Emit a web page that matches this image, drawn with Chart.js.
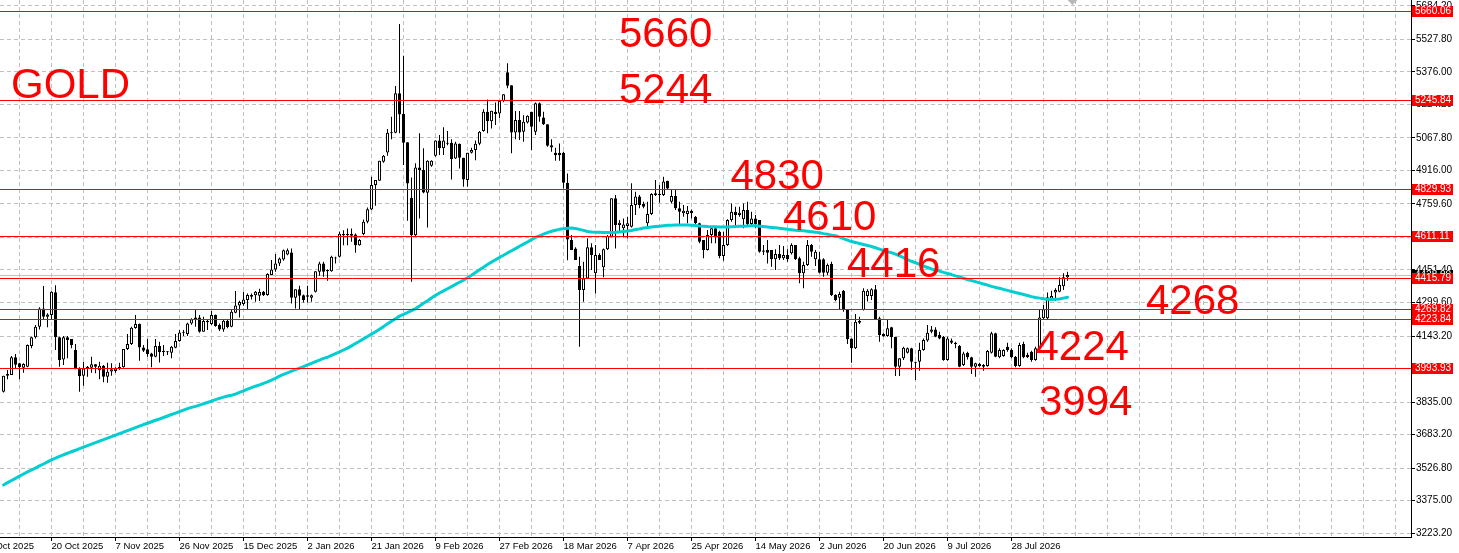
<!DOCTYPE html>
<html>
<head>
<meta charset="utf-8">
<script src="https://cdn.jsdelivr.net/npm/chart.js"></script>
<style>
html,body{margin:0;padding:0;background:#ffffff;overflow:hidden}
canvas{display:block}
</style>
</head>
<body>
<canvas id="c" width="1459" height="553"></canvas>
<script>
// ---- daily OHLC (one value per bar) ----
const OPEN = [
3883,3958,3961,4044,4016,3995,4000,4097,4137,4187,
4272,4233,4241,4347,4137,4034,4137,4129,4078,3992,
3958,3992,3995,4011,3983,4005,3953,3978,3980,3991,
3997,4083,4106,4181,4199,4090,4081,4062,4047,4097,
4067,4067,4065,4089,4120,4159,4153,4202,4221,4230,
4163,4208,4199,4241,4195,4174,4215,4187,4252,4286,
4293,4311,4327,4333,4331,4350,4335,4428,4454,4482,
4500,4524,4533,4322,4362,4334,4326,4322,4350,4443,
4482,4446,4446,4505,4513,4614,4614,4611,4617,4567,
4619,4676,4734,4848,4868,4957,5000,5089,5092,5276,
5179,5048,4788,4614,4930,4918,4812,4938,4985,5056,
5019,5040,5045,4972,5040,4975,4871,4998,5011,5040,
5100,5190,5146,5190,5182,5240,5374,5314,5093,5151,
5097,5140,5190,5097,5229,5163,5132,5034,4998,4998,
4998,4858,4591,4552,4470,4358,4412,4557,4436,4521,
4464,4548,4607,4786,4661,4646,4657,4653,4755,4794,
4759,4669,4713,4801,4801,4801,4868,4770,4797,4739,
4716,4713,4728,4700,4669,4591,4545,4615,4646,4630,
4517,4568,4685,4723,4708,4688,4731,4666,4692,4685,
4537,4545,4545,4501,4526,4506,4521,4529,4568,4506,
4436,4475,4568,4501,4501,4501,4439,4479,4335,4322,
4355,4268,4132,4086,4205,4265,4330,4330,4361,4226,
4153,4143,4184,4140,4000,4039,4065,4086,4023,4023,
4078,4122,4163,4174,4148,4140,4031,4122,4112,4097,
4008,4065,4044,4000,4013,4008,4003,4065,4156,4044,
4050,4093,4078,4047,4003,4106,4055,4070,4031,4081,
4226,4226,4317,4346,4350,4376,4417
];
const HIGH = [
3958,3985,4050,4059,4019,4016,4104,4140,4195,4277,
4377,4249,4352,4380,4140,4143,4143,4129,4106,3997,
4023,4003,4047,4013,4023,4008,4019,4016,3997,4019,
4083,4153,4187,4241,4202,4101,4129,4065,4129,4117,
4101,4073,4097,4153,4171,4171,4205,4226,4265,4241,
4233,4221,4260,4244,4202,4218,4221,4265,4353,4308,
4350,4342,4342,4353,4364,4353,4436,4498,4526,4510,
4547,4552,4552,4362,4378,4337,4378,4337,4446,4490,
4490,4455,4518,4513,4630,4637,4645,4645,4622,4596,
4687,4743,4887,4871,4961,4988,5109,5167,5310,5599,
5451,5048,4883,4949,5089,5019,4964,4964,5056,5081,
5117,5100,5061,5050,5042,4975,4998,5022,5056,5100,
5202,5247,5194,5233,5244,5272,5416,5314,5193,5193,
5174,5174,5190,5233,5233,5190,5132,5062,5022,5042,
5003,4902,4615,4557,4513,4490,4599,4576,4568,4529,
4552,4615,4786,4801,4685,4692,4700,4856,4817,4801,
4770,4770,4809,4871,4848,4887,4868,4825,4825,4770,
4755,4750,4734,4703,4672,4591,4638,4654,4654,4635,
4630,4688,4762,4747,4747,4762,4770,4723,4708,4685,
4568,4591,4545,4548,4568,4563,4548,4576,4568,4513,
4490,4591,4573,4545,4537,4506,4482,4490,4338,4350,
4358,4268,4132,4246,4233,4366,4361,4366,4381,4233,
4156,4221,4187,4140,4039,4093,4090,4089,4023,4112,
4132,4195,4190,4184,4163,4143,4140,4132,4117,4101,
4070,4070,4047,4019,4019,4013,4078,4163,4159,4086,
4081,4112,4086,4050,4112,4117,4065,4075,4093,4265,
4288,4346,4355,4366,4417,4436,4443
];
const LOW = [
3880,3941,3961,3992,3941,3972,3998,4086,4132,4174,
4221,4184,4218,4078,4000,4008,4039,4086,3988,3883,
3911,3953,3972,3969,3941,3927,3925,3958,3972,3985,
3995,4078,4101,4177,4028,4069,4047,3997,4044,4020,
4050,4055,4039,4086,4117,4143,4143,4196,4187,4159,
4163,4171,4195,4187,4167,4163,4179,4184,4249,4230,
4285,4269,4314,4303,4307,4330,4331,4428,4443,4470,
4495,4520,4295,4272,4269,4300,4300,4303,4346,4424,
4420,4401,4443,4482,4510,4567,4567,4583,4532,4564,
4614,4669,4731,4751,4868,4952,4985,5062,5089,5089,
4941,4681,4396,4606,4692,4809,4650,4933,4980,4988,
4988,5034,4874,4969,4925,4840,4840,4995,4964,5034,
5097,5089,5112,5128,5159,5234,5299,4996,5062,5058,
5050,5135,5011,5081,5143,5128,5026,5003,4961,4961,
4832,4497,4545,4498,4093,4303,4412,4451,4342,4498,
4417,4545,4604,4552,4630,4604,4599,4650,4708,4739,
4739,4653,4708,4797,4765,4797,4828,4762,4731,4666,
4700,4669,4692,4666,4576,4506,4542,4576,4576,4506,
4495,4563,4677,4653,4700,4646,4661,4653,4646,4532,
4521,4482,4467,4451,4498,4498,4490,4524,4498,4389,
4366,4470,4513,4470,4436,4420,4428,4330,4306,4265,
4257,4106,4019,4083,4199,4262,4304,4311,4218,4117,
4140,4140,4086,3957,3957,4031,4062,3985,3938,3981,
4075,4117,4156,4137,4128,4028,4028,4106,4086,3997,
4003,4034,3966,3953,4000,3981,4000,4062,4044,4039,
4047,4070,4039,3997,4000,4039,4041,4023,4028,4078,
4221,4221,4311,4308,4347,4358,4401
];
const CLOSE = [
3958,3966,4044,4009,3997,4013,4101,4137,4187,4272,
4233,4244,4350,4137,4031,4137,4125,4101,3992,3956,
3992,4000,4011,4000,4005,3953,3977,3988,3992,3999,
4083,4106,4182,4199,4090,4075,4059,4047,4097,4067,
4075,4070,4093,4120,4160,4163,4202,4221,4230,4163,
4213,4215,4241,4190,4174,4215,4185,4257,4286,4302,
4314,4335,4335,4350,4349,4333,4433,4454,4482,4505,
4544,4544,4322,4362,4331,4311,4334,4334,4446,4482,
4443,4451,4513,4510,4620,4619,4619,4619,4567,4591,
4676,4735,4848,4871,4961,4985,5092,5093,5276,5177,
5045,4855,4614,4930,4918,4813,4961,4961,5056,5019,
5056,5045,4969,5042,4975,4874,4998,5011,5040,5097,
5190,5146,5194,5179,5240,5272,5311,5093,5151,5093,
5143,5171,5120,5229,5167,5131,5031,5023,4987,4987,
4858,4594,4545,4498,4358,4412,4557,4521,4521,4498,
4548,4610,4786,4661,4672,4664,4669,4755,4794,4755,
4747,4713,4806,4809,4806,4864,4832,4797,4739,4723,
4728,4728,4716,4669,4583,4545,4615,4646,4607,4517,
4568,4685,4723,4708,4719,4731,4666,4692,4666,4537,
4542,4532,4501,4526,4506,4521,4501,4568,4501,4436,
4475,4568,4537,4537,4439,4439,4475,4335,4311,4339,
4265,4128,4086,4210,4215,4355,4355,4361,4221,4148,
4143,4179,4137,4000,4039,4089,4086,4023,4019,4078,
4125,4159,4174,4140,4132,4031,4132,4112,4106,4000,
4062,4044,4000,4016,4003,4000,4073,4156,4047,4078,
4078,4078,4044,4003,4101,4044,4044,4031,4086,4230,
4268,4324,4330,4358,4381,4417,4428
];
// moving average (cyan line)
const MA = [
3448,3459,3469,3479,3489,3499,3509,3518,3527,3537,3546,3556,
3565,3573,3581,3589,3596,3603,3610,3618,3625,3632,3639,3646,3653,
3660,3667,3674,3681,3688,3695,3702,3709,3716,3723,3730,3736,
3743,3750,3756,3763,3770,3777,3783,3790,3797,3804,3810,3815,3821,
3827,3833,3839,3846,3852,3858,3863,3867,
3872,3880,3887,3895,3902,
3909,3915,3922,3929,
3937,3946,3956,
3964,3971,3979,3986,3993,
4000,4008,4016,4024,4031,4039,
4044,4053,4061,4069,4078,4087,
4097,4108,4119,4130,4141,4152,
4163,4175,4187,4200,4212,4224,4236,
4244,4253,4262,4271,
4283,4296,4308,4321,4333,
4344,4354,4364,4374,4384,4394,4404,
4415,4427,4440,4452,4464,
4477,4488,4499,4510,4520,4531,
4541,4551,4562,4572,4582,4593,4603,
4611,4619,4626,4632,4637,
4641,4644,4646,
4647,4645,4641,4636,4631,
4629,4628,4627,4626,4626,
4626,4627,4629,4631,4633,
4636,4640,4643,4647,4650,
4652,4654,4656,4658,4660,
4660,4661,4661,4661,4661,
4660,4659,4657,4656,4654,
4653,4653,4652,4652,4652,
4653,4654,4655,4656,4657,4658,4658,
4656,4654,4652,4650,
4648,4646,4644,4641,
4639,4637,4636,4634,4632,
4630,4628,4625,
4621,4618,4614,4611,
4605,4598,4591,4584,
4580,4575,4570,4566,4561,
4555,4549,4543,4537,4532,
4525,4517,4509,4500,4492,
4485,4478,4470,4463,4456,
4451,4446,4440,4435,4430,
4424,4419,4413,4407,4402,
4397,4391,4386,4381,4375,
4370,4366,4361,4356,4351,
4346,4342,4337,4332,4327,
4323,4320,4317,4315,
4314,4315,4316,
4320,4324
];
// horizontal price levels and current bid
const LEVELS = [5660.06, 5245.84, 4829.93, 4611.11, 4415.79, 4269.82, 4223.84, 3993.93];
const BID = 4428.00;
// price-axis tick values
const Y_TICKS = [5684.20, 5527.80, 5376.00, 5224.20, 5067.80, 4916.00, 4759.60, 4603.20,
                 4451.40, 4299.60, 4143.20, 3991.40, 3835.00, 3683.20, 3526.80, 3375.00, 3223.20];
// date labels and the bar they sit on
const DATE_TICK_IDX = [-4, 12, 28, 44, 60, 76, 92, 108, 124, 140, 156, 172, 188, 204, 220, 236, 252];
const DATE_LABELS = ['1 Oct 2025','20 Oct 2025','7 Nov 2025','26 Nov 2025','15 Dec 2025','2 Jan 2026',
  '21 Jan 2026','9 Feb 2026','27 Feb 2026','18 Mar 2026','7 Apr 2026','25 Apr 2026','14 May 2026',
  '2 Jun 2026','20 Jun 2026','9 Jul 2026','28 Jul 2026'];
// big annotation texts
const NOTE_TEXT = ['GOLD','5660','5244','4830','4610','4416','4268','4224','3994'];

// ---------- layout / style (not data) ----------
const NOTE_POS = [[11,98],[619,46.5],[619,103],[730.5,188.5],[783,229.5],[847,276.5],[1146,314],[1035.5,359.5],[1039,414.5]];
const X_MIN = -0.875, X_MAX = 351.875;
const Y_MIN = 3205.2, Y_MAX = 5711.4;
const GRID_IDX = [];
for (let k = 4; k <= 348; k += 8) GRID_IDX.push(k);
const X_TICKS = [-4].concat(GRID_IDX);
const IDX = OPEN.map((_, i) => i);

Chart.defaults.font.family = "'Liberation Sans', Arial, sans-serif";
Chart.defaults.color = '#000000';

function noPad(s) { s.paddingLeft = 0; s.paddingRight = 0; s.paddingTop = 0; s.paddingBottom = 0; }

const overlay = {
  id: 'overlay',
  beforeDatasetsDraw(chart) {
    const {ctx, chartArea: a, scales: {y}} = chart;
    const py = Math.round(y.getPixelForValue(BID)) + 0.5;
    ctx.save();
    ctx.strokeStyle = '#C0C0C0';
    ctx.lineWidth = 1;
    ctx.beginPath(); ctx.moveTo(a.left, py); ctx.lineTo(a.right, py); ctx.stroke();
    ctx.restore();
  },
  afterDatasetsDraw(chart) {
    const {ctx, chartArea: a, scales: {y}} = chart;
    ctx.save();
    ctx.strokeStyle = '#FF0000';
    ctx.lineWidth = 1;
    LEVELS.forEach(v => {
      const py = Math.round(y.getPixelForValue(v)) + 0.5;
      ctx.beginPath(); ctx.moveTo(a.left, py); ctx.lineTo(a.right, py); ctx.stroke();
    });
    ctx.restore();
  },
  afterDraw(chart) {
    const {ctx, chartArea: a, scales: {x, y}} = chart;
    ctx.save();
    ctx.font = "10px 'Liberation Sans', Arial, sans-serif";
    ctx.textBaseline = 'middle';
    ctx.textAlign = 'left';
    const bx = a.right + 1;
    let cy = Math.round(y.getPixelForValue(BID));
    ctx.fillStyle = '#000000';
    ctx.fillRect(bx, cy - 5, 41, 11);
    ctx.fillStyle = '#FFFFFF';
    ctx.fillText(BID.toFixed(2), bx + 3, cy + 0.5);
    LEVELS.forEach(v => {
      const c = Math.round(y.getPixelForValue(v));
      ctx.fillStyle = '#FF0000';
      ctx.fillRect(bx, c - 5, 41, 11);
      ctx.fillStyle = '#FFFFFF';
      ctx.fillText(v.toFixed(2), bx + 3, c + 0.5);
    });
    const tx = Math.round(x.getPixelForValue(267)) + 0.5;
    ctx.fillStyle = '#B8B8B8';
    ctx.beginPath(); ctx.moveTo(tx - 5, 0); ctx.lineTo(tx + 5, 0); ctx.lineTo(tx, 5); ctx.closePath(); ctx.fill();
    ctx.font = "42px 'Liberation Sans', Arial, sans-serif";
    ctx.textBaseline = 'alphabetic';
    ctx.fillStyle = '#FF0000';
    NOTE_TEXT.forEach((t, k) => ctx.fillText(t, NOTE_POS[k][0], NOTE_POS[k][1]));
    ctx.restore();
  }
};

new Chart(document.getElementById('c'), {
  type: 'bar',
  data: {
    datasets: [
      {
        type: 'line', label: 'MA', order: 0,
        data: IDX.map(i => ({x: i, y: MA[i]})),
        borderColor: '#00CED1', borderWidth: 3, pointRadius: 0, fill: false, tension: 0,
        borderJoinStyle: 'round', borderCapStyle: 'round'
      },
      {
        type: 'bar', label: 'body', order: 1, grouped: false,
        data: IDX.map(i => ({x: i, y: [OPEN[i], CLOSE[i]]})),
        backgroundColor: c => (c.dataIndex !== undefined && CLOSE[c.dataIndex] >= OPEN[c.dataIndex]) ? '#FFFFFF' : '#000000',
        borderColor: '#000000', borderWidth: 1, borderSkipped: false,
        barThickness: 3, maxBarThickness: 3, minBarLength: 1, inflateAmount: 0
      },
      {
        type: 'bar', label: 'wick', order: 2, grouped: false,
        data: IDX.map(i => ({x: i, y: [LOW[i], HIGH[i]]})),
        backgroundColor: '#000000', borderWidth: 0,
        barThickness: 1, maxBarThickness: 1, minBarLength: 1, inflateAmount: 0
      }
    ]
  },
  options: {
    responsive: false,
    animation: false,
    devicePixelRatio: 1,
    events: [],
    layout: {padding: 0, autoPadding: false},
    plugins: {legend: {display: false}, tooltip: {enabled: false}},
    scales: {
      x: {
        type: 'linear', position: 'bottom', min: X_MIN, max: X_MAX, offset: false,
        afterBuildTicks: s => { s.ticks = X_TICKS.map(v => ({value: v})); },
        afterFit: s => { s.height = 16; noPad(s); },
        ticks: {
          autoSkip: false, maxRotation: 0, minRotation: 0, align: 'start', padding: 0,
          font: {size: 9.5}, color: '#000000',
          callback: v => { const k = DATE_TICK_IDX.indexOf(v); return k >= 0 ? DATE_LABELS[k] : ''; }
        },
        grid: {
          offset: false, color: '#C0C0C0', lineWidth: 1, drawTicks: true, tickLength: 4,
          tickColor: c => (c.tick && DATE_TICK_IDX.indexOf(c.tick.value) >= 0) ? '#000000' : 'rgba(0,0,0,0)'
        },
        border: {display: true, color: '#000000', width: 1, dash: [4, 3]}
      },
      y: {
        type: 'linear', position: 'right', min: Y_MIN, max: Y_MAX, offset: false,
        afterBuildTicks: s => { s.ticks = Y_TICKS.map(v => ({value: v})); },
        afterFit: s => { s.width = 48; noPad(s); },
        ticks: {
          autoSkip: false, padding: 1, font: {size: 10}, color: '#000000',
          callback: v => Number(v).toFixed(2)
        },
        grid: {color: '#C0C0C0', lineWidth: 1, drawTicks: true, tickLength: 4, tickColor: '#000000'},
        border: {display: true, color: '#000000', width: 1, dash: [4, 3]}
      }
    }
  },
  plugins: [overlay]
});
</script>
</body>
</html>
